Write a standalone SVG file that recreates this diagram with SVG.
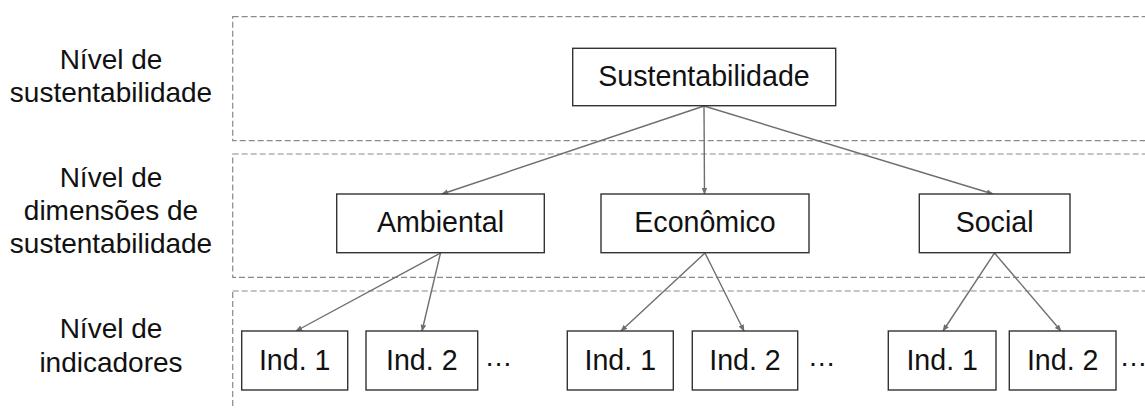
<svg xmlns="http://www.w3.org/2000/svg" width="1145" height="408" viewBox="0 0 1145 408">
<style>
.band{fill:none;stroke:#8a8a8a;stroke-width:1.2;stroke-dasharray:6 3}
.box{fill:#fff;stroke:#333;stroke-width:1.4}
.t{font-family:"Liberation Sans",Arial,sans-serif;font-size:28.6px;fill:#111;text-anchor:middle}
.lab{font-family:"Liberation Sans",Arial,sans-serif;font-size:28px;fill:#111;text-anchor:middle}
.dots{font-family:"Liberation Sans",Arial,sans-serif;font-size:28px;fill:#111}
.c{stroke:#6e6e6e;stroke-width:1.4;fill:none;marker-end:url(#ah)}
</style>
<defs>
<marker id="ah" viewBox="0 0 10 10" refX="9" refY="5" markerWidth="5" markerHeight="5" orient="auto" markerUnits="strokeWidth">
<path d="M0,1 L10,5 L0,9 z" fill="#6e6e6e"/>
</marker>
</defs>
<rect width="1145" height="408" fill="#fff"/>
<g id="bands">
<rect class="band" x="232.7" y="16.7" width="930" height="124"/>
<rect class="band" x="232.7" y="154" width="930" height="123.3"/>
<rect class="band" x="232.7" y="291" width="930" height="140"/>
</g>
<g id="level-labels">
<text class="lab" x="111" y="69">Nível de</text>
<text class="lab" x="111" y="102">sustentabilidade</text>
<text class="lab" x="111" y="187">Nível de</text>
<text class="lab" x="111" y="220">dimensões de</text>
<text class="lab" x="111" y="253">sustentabilidade</text>
<text class="lab" x="111" y="338">Nível de</text>
<text class="lab" x="111" y="372">indicadores</text>
</g>
<g id="connectors">
<line class="c" x1="704" y1="106" x2="442" y2="194"/>
<line class="c" x1="704" y1="106" x2="704.5" y2="194"/>
<line class="c" x1="704" y1="106" x2="993" y2="194"/>
<line class="c" x1="440.5" y1="253" x2="296" y2="331"/>
<line class="c" x1="440.5" y1="253" x2="422" y2="331"/>
<line class="c" x1="705" y1="253" x2="621" y2="331"/>
<line class="c" x1="705" y1="253" x2="744" y2="331"/>
<line class="c" x1="994.5" y1="253" x2="943" y2="331"/>
<line class="c" x1="994.5" y1="253" x2="1061" y2="331"/>
</g>
<g id="sustentabilidade">
<rect class="box" x="572.7" y="48.3" width="263" height="57.4"/>
<text class="t" x="704" y="86">Sustentabilidade</text>
</g>
<g id="ambiental">
<rect class="box" x="336.7" y="194" width="207.6" height="58.7"/>
<text class="t" x="440.5" y="232">Ambiental</text>
</g>
<g id="economico">
<rect class="box" x="601" y="194" width="208" height="58.7"/>
<text class="t" x="705" y="232">Econômico</text>
</g>
<g id="social">
<rect class="box" x="919.3" y="194" width="150.7" height="58.7"/>
<text class="t" x="994.6" y="232">Social</text>
</g>
<g id="amb-ind1">
<rect class="box" x="241.7" y="331" width="106" height="59"/>
<text class="t" x="294.7" y="370">Ind. 1</text>
</g>
<g id="amb-ind2">
<rect class="box" x="366" y="331" width="111.7" height="59"/>
<text class="t" x="421.8" y="370">Ind. 2</text>
</g>
<g id="amb-more"><text class="dots" x="484.5" y="366">…</text></g>
<g id="eco-ind1">
<rect class="box" x="567.3" y="331" width="106" height="59"/>
<text class="t" x="620.3" y="370">Ind. 1</text>
</g>
<g id="eco-ind2">
<rect class="box" x="692.3" y="331" width="105.4" height="59"/>
<text class="t" x="745" y="370">Ind. 2</text>
</g>
<g id="eco-more"><text class="dots" x="807.8" y="366">…</text></g>
<g id="soc-ind1">
<rect class="box" x="888.3" y="331" width="107.7" height="59"/>
<text class="t" x="942.2" y="370">Ind. 1</text>
</g>
<g id="soc-ind2">
<rect class="box" x="1009.3" y="331" width="106.7" height="59"/>
<text class="t" x="1062.7" y="370">Ind. 2</text>
</g>
<g id="soc-more"><text class="dots" x="1119.5" y="366">…</text></g>
</svg>
